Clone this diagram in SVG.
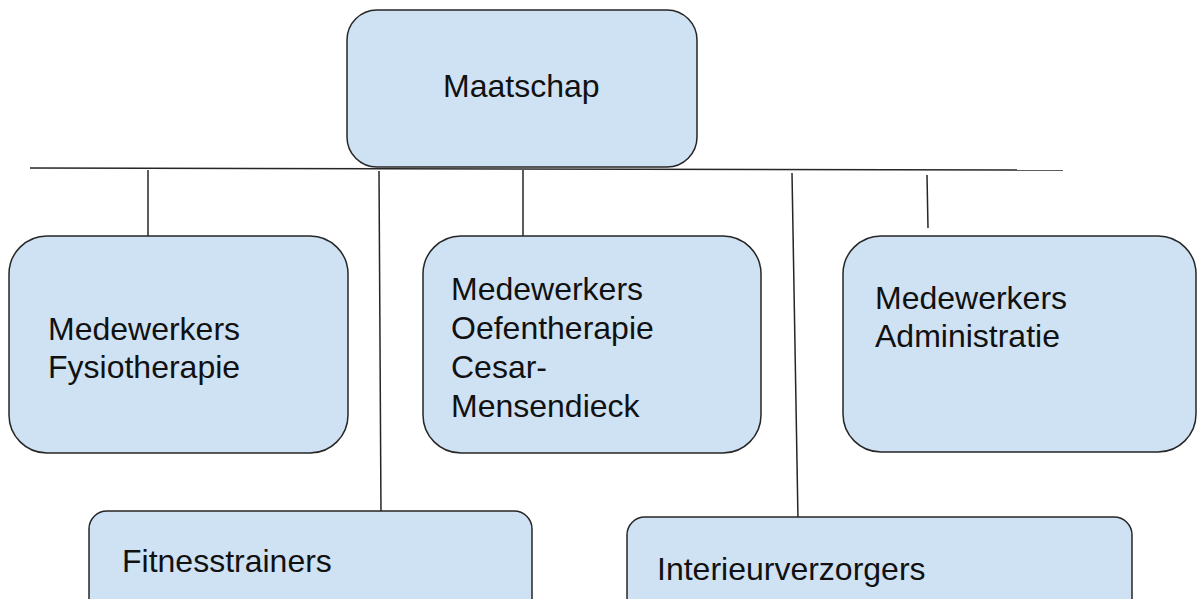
<svg xmlns="http://www.w3.org/2000/svg" width="1198" height="599" viewBox="0 0 1198 599">
<style>
.box{fill:#cfe2f3;stroke:#262626;stroke-width:1.5}
.t{font-family:"Liberation Sans",Arial,sans-serif;font-size:32px;fill:#111}
.c{stroke:#262626;stroke-width:1.5;fill:none}
</style>
<rect width="1198" height="599" fill="#fff"/>
<g id="connectors">
<line class="c" x1="30" y1="168" x2="1063" y2="170"/>
<line class="c" x1="148" y1="170" x2="148" y2="236"/>
<line class="c" x1="379" y1="171" x2="381" y2="513"/>
<line class="c" x1="523" y1="170" x2="523" y2="242"/>
<line class="c" x1="792" y1="173" x2="798" y2="520"/>
<line class="c" x1="927" y1="175" x2="928" y2="228"/>
</g>
<g id="maatschap">
<rect class="box" x="347" y="10" width="350" height="157" rx="30"/>
<text class="t" x="443" y="97">Maatschap</text>
</g>
<g id="fysiotherapie">
<rect class="box" x="9" y="236" width="339" height="217" rx="38"/>
<text class="t" x="48" y="340">Medewerkers</text>
<text class="t" x="48" y="378">Fysiotherapie</text>
</g>
<g id="oefentherapie">
<rect class="box" x="423" y="236" width="338" height="217" rx="38"/>
<text class="t" x="451" y="300">Medewerkers</text>
<text class="t" x="451" y="339">Oefentherapie</text>
<text class="t" x="451" y="378">Cesar-</text>
<text class="t" x="451" y="417">Mensendieck</text>
</g>
<g id="administratie">
<rect class="box" x="843" y="236" width="353" height="216" rx="38"/>
<text class="t" x="875" y="309">Medewerkers</text>
<text class="t" x="875" y="347">Administratie</text>
</g>
<g id="fitnesstrainers">
<rect class="box" x="89" y="511" width="443" height="110" rx="18"/>
<text class="t" x="122" y="572">Fitnesstrainers</text>
</g>
<g id="interieurverzorgers">
<rect class="box" x="627" y="517" width="505" height="110" rx="18"/>
<text class="t" x="657" y="580">Interieurverzorgers</text>
</g>
</svg>
